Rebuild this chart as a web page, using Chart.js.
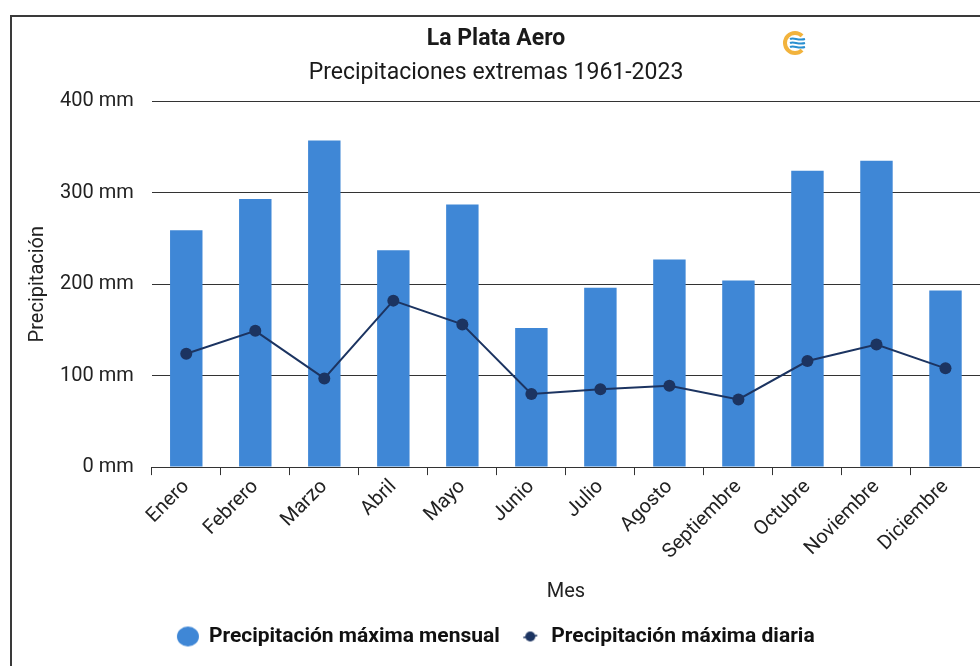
<!DOCTYPE html>
<html>
<head>
<meta charset="utf-8">
<script src="https://cdn.jsdelivr.net/npm/chart.js@4.4.1/dist/chart.umd.min.js"></script>
<style>
  html, body { margin: 0; padding: 0; background: #ffffff; overflow: hidden; width: 980px; height: 666px; }
  #frame { position: absolute; left: 10px; top: 15px; width: 1000px; height: 680px; border: 2px solid #3a3a3a; background: #fff; }
  #wrap { position: relative; width: 1000px; height: 680px; }
</style>
</head>
<body>
<div id="frame"><div id="wrap"><canvas id="c"></canvas></div></div>
<script>
const months = ['Enero', 'Febrero', 'Marzo', 'Abril', 'Mayo', 'Junio', 'Julio', 'Agosto', 'Septiembre', 'Octubre', 'Noviembre', 'Diciembre'];
const maxMensual = [259, 293, 357, 237, 287, 152, 196, 227, 204, 324, 335, 193];
const maxDiaria = [124, 149, 97, 182, 156, 80, 85, 89, 74, 116, 134, 108];
const yTicks = [0, 100, 200, 300, 400];

const BAR_BLUE = '#3f87d6';
const NAVY = '#1c3461';
const FONT = 'Roboto, "Noto Sans", sans-serif';

function markerBar() {
  const c = document.createElement('canvas');
  c.width = 24; c.height = 24;
  const g = c.getContext('2d');
  g.fillStyle = BAR_BLUE;
  g.beginPath(); g.ellipse(12, 12, 11, 10, 0, 0, Math.PI * 2); g.fill();
  return c;
}
function markerLine() {
  const c = document.createElement('canvas');
  c.width = 24; c.height = 24;
  const g = c.getContext('2d');
  g.strokeStyle = NAVY; g.lineWidth = 1.5;
  g.beginPath(); g.moveTo(5, 13); g.lineTo(19, 11); g.stroke();
  g.fillStyle = NAVY;
  g.beginPath(); g.arc(12, 12, 5, 0, Math.PI * 2); g.fill();
  return c;
}

const logoPlugin = {
  id: 'logo',
  afterDraw(chart) {
    const ctx = chart.ctx;
    const cx = 783, cy = 26;
    ctx.save();
    ctx.strokeStyle = '#f2b33d';
    ctx.lineWidth = 4;
    ctx.beginPath();
    ctx.arc(cx, cy, 10, Math.PI * 0.25, Math.PI * 1.75);
    ctx.stroke();
    ctx.strokeStyle = '#2a8fd0';
    ctx.lineWidth = 2;
    for (let i = 0; i < 3; i++) {
      const yy = cy - 4 + i * 4;
      ctx.beginPath();
      ctx.moveTo(cx - 5, yy);
      ctx.bezierCurveTo(cx - 1, yy - 2, cx + 3, yy + 2, cx + 10, yy);
      ctx.stroke();
    }
    ctx.restore();
  }
};

new Chart(document.getElementById('c'), {
  type: 'bar',
  data: {
    labels: months,
    datasets: [
      {
        type: 'bar',
        label: 'Precipitación máxima mensual',
        data: maxMensual,
        backgroundColor: BAR_BLUE,
        borderWidth: 0,
        barPercentage: 0.47,
        categoryPercentage: 1.0,
        order: 2
      },
      {
        type: 'line',
        label: 'Precipitación máxima diaria',
        data: maxDiaria,
        borderColor: NAVY,
        backgroundColor: NAVY,
        borderWidth: 2,
        pointRadius: 6,
        pointHoverRadius: 6,
        pointBackgroundColor: NAVY,
        pointBorderWidth: 0,
        tension: 0,
        order: 1
      }
    ]
  },
  options: {
    responsive: true,
    maintainAspectRatio: false,
    animation: false,
    layout: { padding: { left: 0, right: 32, top: 0, bottom: 40 } },
    plugins: {
      title: {
        display: true,
        text: 'La Plata Aero',
        color: '#1a1a1a',
        font: { family: FONT, size: 23, weight: 'bold' },
        padding: { top: 8, bottom: 0 }
      },
      subtitle: {
        display: true,
        text: 'Precipitaciones extremas 1961-2023',
        color: '#1a1a1a',
        font: { family: FONT, size: 23, weight: 'normal' },
        padding: { top: 7, bottom: 14 }
      },
      legend: {
        position: 'bottom',
        labels: {
          usePointStyle: true,
          color: '#111',
          font: { family: FONT, size: 21, weight: 'bold' },
          padding: 20,
          sort: (a, b) => a.datasetIndex - b.datasetIndex,
          generateLabels(chart) {
            const items = Chart.defaults.plugins.legend.labels.generateLabels(chart);
            items.forEach(it => {
              it.pointStyle = it.datasetIndex === 0 ? markerBar() : markerLine();
            });
            return items;
          }
        }
      },
      tooltip: { enabled: false }
    },
    scales: {
      x: {
        grid: { display: true, drawOnChartArea: false, drawTicks: true, tickLength: 8, color: '#333', offset: true },
        border: { display: true, color: '#333', width: 1 },
        ticks: {
          color: '#222',
          font: { family: FONT, size: 20 },
          minRotation: 45,
          maxRotation: 45,
          padding: 0,
          autoSkip: false
        },
        title: {
          display: true,
          text: 'Mes',
          color: '#222',
          font: { family: FONT, size: 20 },
          padding: { top: 16, bottom: 2 }
        }
      },
      y: {
        min: 0,
        max: 400,
        afterBuildTicks(scale) { scale.ticks = yTicks.map(v => ({ value: v })); },
        grid: { color: '#333', lineWidth: 1, drawTicks: false },
        border: { display: false },
        ticks: {
          color: '#222',
          font: { family: FONT, size: 20 },
          padding: 18,
          callback: v => v + ' mm'
        },
        title: {
          display: true,
          text: 'Precipitación',
          color: '#222',
          font: { family: FONT, size: 20 },
          padding: { top: 14, bottom: -8 }
        }
      }
    }
  },
  plugins: [logoPlugin]
});
</script>
</body>
</html>
